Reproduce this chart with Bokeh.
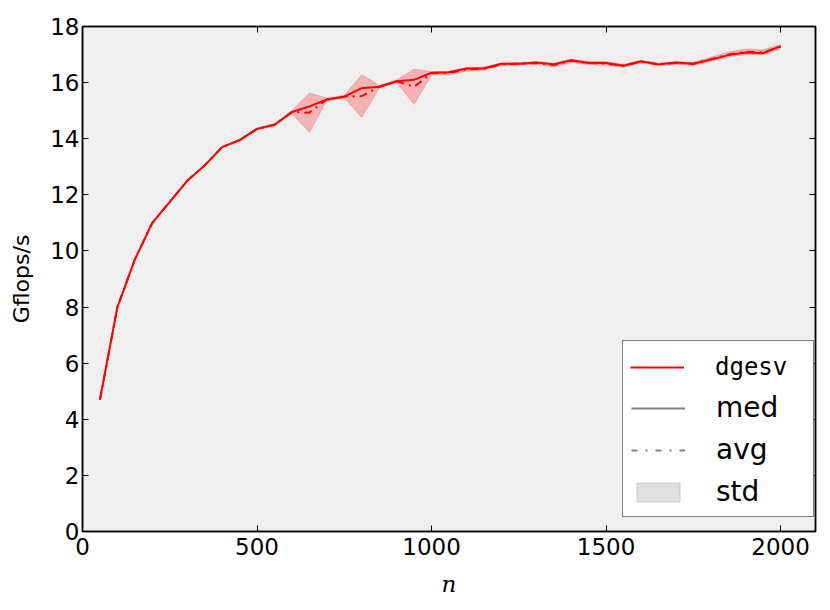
from bokeh.plotting import figure
from bokeh.models import Range1d, LinearAxis, FixedTicker, Legend, LegendItem
from bokeh.embed import file_html
from bokeh.resources import INLINE

# ---- data ----
n = [50, 100, 150, 200, 250, 300, 350, 400, 450, 500,
     550, 600, 650, 700, 750, 800, 850, 900, 950, 1000,
     1050, 1100, 1150, 1200, 1250, 1300, 1350, 1400, 1450, 1500,
     1550, 1600, 1650, 1700, 1750, 1800, 1850, 1900, 1950, 2000]
med = [4.7, 8.0, 9.7, 11.0, 11.75, 12.5, 13.05, 13.7, 13.95, 14.35,
       14.5, 14.95, 15.15, 15.4, 15.5, 15.8, 15.85, 16.05, 16.1, 16.35,
       16.37, 16.5, 16.5, 16.67, 16.67, 16.72, 16.65, 16.8, 16.7, 16.7,
       16.6, 16.76, 16.65, 16.72, 16.67, 16.82, 16.98, 17.07, 17.05, 17.3]
avg = [4.7, 8.0, 9.7, 11.0, 11.75, 12.5, 13.05, 13.7, 13.95, 14.35,
       14.5, 14.95, 14.93, 15.4, 15.5, 15.52, 15.85, 16.05, 15.85, 16.33,
       16.35, 16.47, 16.5, 16.65, 16.67, 16.7, 16.63, 16.78, 16.7, 16.68,
       16.6, 16.75, 16.65, 16.7, 16.67, 16.83, 17.0, 17.1, 17.08, 17.28]
std = [0.02, 0.02, 0.02, 0.02, 0.02, 0.02, 0.03, 0.03, 0.03, 0.04,
       0.04, 0.05, 0.70, 0.05, 0.05, 0.76, 0.05, 0.05, 0.63, 0.06,
       0.06, 0.07, 0.06, 0.05, 0.05, 0.05, 0.07, 0.06, 0.06, 0.07,
       0.05, 0.05, 0.05, 0.05, 0.06, 0.07, 0.09, 0.10, 0.09, 0.08]
x_ticks = [0, 500, 1000, 1500, 2000]
y_ticks = [0, 2, 4, 6, 8, 10, 12, 14, 16, 18]

lower = [a - s for a, s in zip(avg, std)]
upper = [a + s for a, s in zip(avg, std)]
nan = float("nan")

FONT = "DejaVu Sans"
TICK_PX = "23px"

p = figure(width=826, height=606, x_range=Range1d(0, 2100), y_range=Range1d(0, 18),
           output_backend="svg", toolbar_location=None,
           min_border_left=82, min_border_top=26, min_border_right=11, min_border_bottom=75)
p.background_fill_color = "#efefef"
p.border_fill_color = "white"
p.outline_line_color = "black"
p.outline_line_width = 1.5
p.xgrid.visible = False
p.ygrid.visible = False

for ax, tk in ((p.xaxis[0], x_ticks), (p.yaxis[0], y_ticks)):
    ax.ticker = FixedTicker(ticks=tk)
    ax.major_tick_in = 6
    ax.major_tick_out = 0
    ax.major_tick_line_color = "black"
    ax.minor_tick_line_color = None
    ax.axis_line_color = "black"
    ax.axis_line_width = 1.5
    ax.major_label_text_font = FONT
    ax.major_label_text_font_size = TICK_PX
    ax.major_label_text_color = "black"
    ax.axis_label_text_color = "black"

p.xaxis.major_label_standoff = 6
p.yaxis.major_label_standoff = 3
p.yaxis.axis_label = "Gflops/s"
p.yaxis.axis_label_text_font = FONT
p.yaxis.axis_label_text_font_size = "22px"
p.yaxis.axis_label_text_font_style = "normal"
p.yaxis.axis_label_standoff = 13
p.xaxis.axis_label = "n"
p.xaxis.axis_label_text_font = "DejaVu Serif"
p.xaxis.axis_label_text_font_size = "23px"
p.xaxis.axis_label_text_font_style = "italic"
p.xaxis.axis_label_standoff = 13

# mirrored inward ticks on the top and right edges
for loc, tk in (("above", x_ticks), ("right", y_ticks)):
    ax = LinearAxis(ticker=FixedTicker(ticks=tk), major_tick_in=6, major_tick_out=0,
                    minor_tick_line_color=None, axis_line_color="black", axis_line_width=1.5,
                    major_label_text_font_size="0px", major_label_standoff=0)
    p.add_layout(ax, loc)

# ---- data glyphs ----
p.varea(x=n, y1=lower, y2=upper, fill_color="red", fill_alpha=0.25)
p.line(x=n, y=lower, line_color="red", line_alpha=0.2, line_width=1)
p.line(x=n, y=upper, line_color="red", line_alpha=0.2, line_width=1)
p.line(x=n, y=avg, line_color="red", line_width=2, line_dash="8 5 2 5")
r_med = p.line(x=n, y=med, line_color="red", line_width=2)

# ---- legend-only renderers (no visible data) ----
d_dge = p.line(x=[nan], y=[nan], line_color="red", line_width=1.8)
d_blank = p.line(x=[nan], y=[nan], line_alpha=0)
d_med = p.line(x=[nan], y=[nan], line_color="#808080", line_width=2)
d_avg = p.line(x=[nan], y=[nan], line_color="#808080", line_width=2, line_dash="6 8 2 8")
d_std = p.quad(left=[nan], right=[nan], top=[nan], bottom=[nan], fill_color="#808080",
               fill_alpha=0.25, line_color="#808080", line_alpha=0.3)

common = dict(padding=8, spacing=9, glyph_height=24, label_height=33, glyph_width=54,
              label_standoff=31, label_width=89, margin=0)
A_H = 2 * 8 + 4 * 33 + 3 * 9
B_H = 2 * 8 + 33
leg_a = Legend(items=[LegendItem(label=" ", renderers=[d_blank]),
                      LegendItem(label="med", renderers=[d_med]),
                      LegendItem(label="avg", renderers=[d_avg]),
                      LegendItem(label="std", renderers=[d_std])],
               location=(540, 14), label_text_font=FONT, label_text_font_size="28px",
               label_text_color="black",
               border_line_color="black", border_line_width=1.5,
               background_fill_color="white", background_fill_alpha=1.0, **common)
leg_b = Legend(items=[LegendItem(label="dgesv", renderers=[d_dge])],
               location=(540, 14 + A_H - B_H), label_text_font="DejaVu Sans Mono",
               label_text_font_size="24px", label_text_color="black", border_line_alpha=0,
               background_fill_alpha=0, **common)
p.add_layout(leg_a)
p.add_layout(leg_b)

open("out.html", "w").write(file_html(p, INLINE))
